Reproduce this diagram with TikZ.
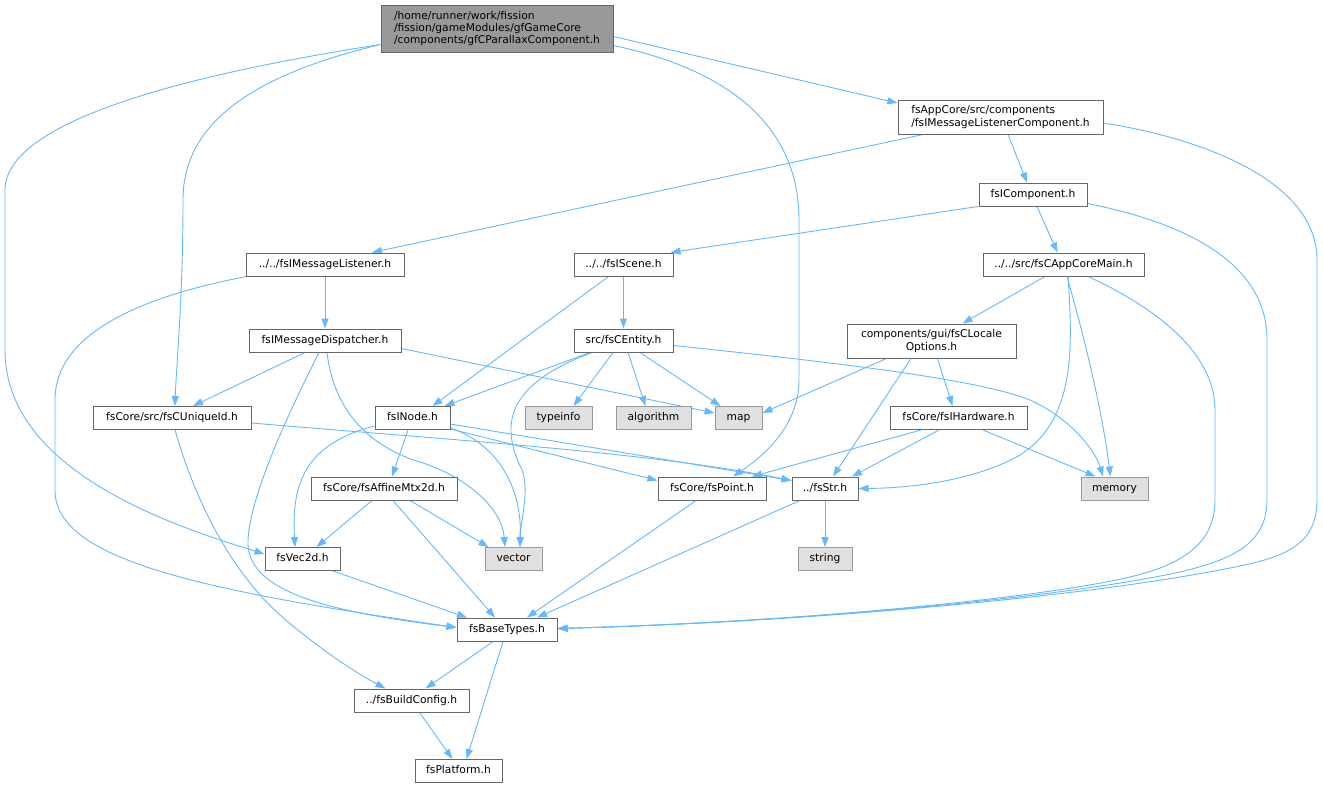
\documentclass[tikz,border=0pt]{standalone}
\usepackage{fontspec}
\setmainfont{DejaVu Sans}
\usetikzlibrary{arrows.meta,calc,backgrounds}
\definecolor{edgec}{HTML}{63B8FF}
\definecolor{boxc}{HTML}{666666}
\definecolor{sysfill}{HTML}{E0E0E0}
\definecolor{sysdraw}{HTML}{999999}
\definecolor{rootfill}{HTML}{999999}
\begin{document}
\begin{tikzpicture}[x=1pt,y=-1pt,
  base/.style={draw=boxc, line width=1pt, fill=white, inner sep=0pt,
    font=\fontsize{10.7}{12.2}\selectfont, text=black},
  box/.style={base, minimum height=23pt, text height=8pt, text depth=2.5pt},
  mbox/.style={base},
  rootbox/.style={mbox, fill=rootfill},
  sys/.style={box, draw=sysdraw, fill=sysfill},
  dep/.style={draw=edgec, line width=0.9pt, -{Triangle[length=10pt,width=7pt]}}
]
\useasboundingbox (0,0) rectangle (1323,788);

% nodes
\node[rootbox, minimum width=232pt, minimum height=47pt, align=left] (root) at (497,28.5)
  {/home/runner/work/fission\\/fission/gameModules/gfGameCore\\/components/gfCParallaxComponent.h};
\node[mbox, minimum width=205pt, minimum height=34pt, align=left] (mlc) at (1000.5,117)
  {fsAppCore/src/components\\/fsIMessageListenerComponent.h};
\node[box, minimum width=108pt] (comp) at (1033,194.5) {fsIComponent.h};
\node[box, minimum width=158pt] (ml) at (325,264.5) {../../fsIMessageListener.h};
\node[box, minimum width=99pt] (scene) at (623.5,264.5) {../../fsIScene.h};
\node[box, minimum width=161pt] (main) at (1063.5,264.5) {../../src/fsCAppCoreMain.h};
\node[box, minimum width=152pt] (md) at (325,340.5) {fsIMessageDispatcher.h};
\node[box, minimum width=99pt] (ent) at (623.5,340.5) {src/fsCEntity.h};
\node[mbox, minimum width=169pt, minimum height=34pt, align=center] (loc) at (931.5,341)
  {components/gui/fsCLocale\\Options.h};
\node[box, minimum width=158pt] (uid) at (172,418) {fsCore/src/fsCUniqueId.h};
\node[box, minimum width=75pt] (node) at (412.5,418) {fsINode.h};
\node[sys, minimum width=67pt] (typeinfo) at (558.5,418) {typeinfo};
\node[sys, minimum width=75pt] (algorithm) at (653.5,418) {algorithm};
\node[sys, minimum width=47pt] (map) at (738.5,418) {map};
\node[box, minimum width=137pt] (hw) at (958.5,418) {fsCore/fsIHardware.h};
\node[box, minimum width=146pt] (affine) at (384,488.5) {fsCore/fsAffineMtx2d.h};
\node[box, minimum width=108pt] (point) at (712,488.5) {fsCore/fsPoint.h};
\node[box, minimum width=66pt] (str) at (825,488.5) {../fsStr.h};
\node[sys, minimum width=67pt] (memory) at (1114.5,488.5) {memory};
\node[box, minimum width=75pt] (vec) at (302.5,559) {fsVec2d.h};
\node[sys, minimum width=57pt] (vector) at (513.5,559) {vector};
\node[sys, minimum width=54pt] (string) at (825,559) {string};
\node[box, minimum width=100pt] (bt) at (507,629.5) {fsBaseTypes.h};
\node[box, minimum width=115pt] (bc) at (411.5,700.5) {../fsBuildConfig.h};
\node[box, minimum width=87pt] (plat) at (458.5,771) {fsPlatform.h};

\begin{scope}[on background layer]
% root
\draw[dep] ($(root.east)+(0,8)$) -- ($(mlc.west)+(0,-14)$);
\draw[dep] ($(root.west)+(0,16)$) .. controls (240,78) and (183,130) .. (183,200)
  .. controls (183,300) and (176,370) .. ($(uid.north)+(3,0)$);
\draw[dep] ($(root.west)+(0,16)$) .. controls (250,65) and (5,110) .. (5,190) -- (5,350)
  .. controls (5,470) and (170,525) .. ($(vec.west)+(0,-5)$);
\draw[dep] ($(root.east)+(0,17)$) .. controls (720,68) and (799,120) .. (799,220) -- (799,380)
  .. controls (799,425) and (765,455) .. ($(point.north)+(21,0)$);
% mlc
\draw[dep] ($(mlc.south)+(-77.5,0)$) -- ($(ml.north)+(47,0)$);
\draw[dep] ($(mlc.south)+(7.5,0)$) -- ($(comp.north)+(-6,0)$);
\draw[dep] ($(mlc.east)+(0,6)$) .. controls (1200,138) and (1317,180) .. (1317,260) -- (1317,500)
  .. controls (1317,548) and (1280,558) .. (1230,568)
  .. controls (1080,598) and (800,622) .. ($(bt.east)+(0,-1)$);
% comp
\draw[dep] ($(comp.south)+(-55,0)$) -- ($(scene.north east)+(-3,0)$);
\draw[dep] ($(comp.south)+(4,0)$) -- ($(main.north)+(-6,0)$);
\draw[dep] ($(comp.east)+(0,9)$) .. controls (1180,222) and (1267,260) .. (1267,340) -- (1267,500)
  .. controls (1267,545) and (1230,560) .. (1180,572)
  .. controls (1060,598) and (800,622) .. ($(bt.east)+(0,-1)$);
% ml
\draw[dep] (ml.south) -- (md.north);
\draw[dep] ($(ml.south west)+(1,0)$) .. controls (150,295) and (55,330) .. (55,400) -- (55,490)
  .. controls (55,560) and (200,590) .. ($(bt.west)+(0,-2)$);
% scene
\draw[dep] (scene.south) -- (ent.north);
\draw[dep] ($(scene.south)+(-15,0)$) -- ($(node.north)+(20,0)$);
% main
\draw[dep] ($(main.south)+(-18.5,0)$) -- ($(loc.north)+(31,0)$);
\draw[dep] ($(main.south)+(4.5,0)$) .. controls (1073,350) and (1075,420) .. (1020,455)
  .. controls (980,478) and (920,488) .. (str.east);
\draw[dep] ($(main.south)+(3.5,0)$) .. controls (1085,340) and (1102,410) .. ($(memory.north)+(-4,0)$);
\draw[dep] ($(main.south)+(24.5,0)$) .. controls (1150,305) and (1215,350) .. (1215,410) -- (1215,500)
  .. controls (1215,545) and (1180,565) .. (1130,577)
  .. controls (1040,598) and (800,622) .. ($(bt.east)+(0,-1)$);
% md
\draw[dep] ($(md.south)+(-20,0)$) -- ($(uid.north)+(21,0)$);
\draw[dep] ($(md.south)+(-6,0)$) .. controls (290,410) and (250,495) .. (248,540)
  .. controls (245,592) and (330,612) .. ($(bt.west)+(0,-2)$);
\draw[dep] ($(md.south)+(2,0)$) .. controls (335,420) and (380,450) .. (420,462)
  .. controls (470,478) and (502,510) .. ($(vector.north)+(-8.5,0)$);
\draw[dep] ($(md.east)+(0,8)$) -- ($(map.west)+(0,-5)$);
% ent
\draw[dep] ($(ent.south)+(-33.5,0)$) -- ($(node.north)+(32,0)$);
\draw[dep] ($(ent.south)+(-10.5,0)$) -- ($(typeinfo.north)+(15,0)$);
\draw[dep] ($(ent.south)+(4.5,0)$) -- ($(algorithm.north)+(-8,0)$);
\draw[dep] ($(ent.south)+(16.5,0)$) -- ($(map.north)+(-18,0)$);
\draw[dep] ($(ent.south)+(-31.5,0)$) .. controls (505,385) and (500,425) .. (522,470)
  .. controls (530,490) and (520,525) .. ($(vector.north)+(6.5,0)$);
\draw[dep] ($(ent.east)+(0,5)$) .. controls (850,364) and (980,380) .. (1030,400)
  .. controls (1070,418) and (1095,450) .. ($(memory.north)+(-11.5,0)$);
% loc
\draw[dep] ($(loc.south)+(-45,0)$) -- ($(map.east)+(0,-5)$);
\draw[dep] ($(loc.south)+(-20.5,0)$) -- ($(str.north)+(8,0)$);
\draw[dep] ($(loc.south)+(6,0)$) -- ($(hw.north)+(-6,0)$);
% uid
\draw[dep] ($(uid.south)+(3,0)$) .. controls (195,500) and (230,570) .. (280,615)
  .. controls (320,650) and (360,675) .. ($(bc.north)+(-26,0)$);
\draw[dep] ($(uid.east)+(0,5)$) .. controls (450,440) and (650,452) .. ($(str.west)+(0,-8)$);
% node
\draw[dep] ($(node.south)+(-4.5,0)$) -- ($(affine.north)+(8,0)$);
\draw[dep] ($(node.west)+(0,8)$) .. controls (300,445) and (292,490) .. ($(vec.north)+(-7.5,0)$);
\draw[dep] ($(node.south east)+(0,-2)$) .. controls (500,445) and (522,490) .. ($(vector.north)+(6.5,0)$);
\draw[dep] ($(node.south east)+(0,-1)$) -- ($(point.west)+(0,-8)$);
\draw[dep] ($(node.east)+(0,6)$) -- ($(str.west)+(0,-8)$);
% affine
\draw[dep] ($(affine.south)+(-12,0)$) -- ($(vec.north)+(14,0)$);
\draw[dep] ($(affine.south)+(26,0)$) -- ($(vector.north)+(-25,0)$);
\draw[dep] ($(affine.south)+(9,0)$) -- ($(bt.north)+(-12,0)$);
% others
\draw[dep] ($(point.south)+(-16,0)$) -- ($(bt.north)+(20,0)$);
\draw[dep] ($(str.south)+(-25,0)$) -- ($(bt.north)+(30,0)$);
\draw[dep] (str.south) -- (string.north);
\draw[dep] ($(vec.south)+(30.5,0)$) -- ($(bt.north)+(-40,0)$);
\draw[dep] ($(hw.south)+(-37.5,0)$) -- ($(point.north)+(40,0)$);
\draw[dep] ($(hw.south)+(-19.5,0)$) -- ($(str.north)+(27,0)$);
\draw[dep] ($(hw.south)+(24.5,0)$) -- ($(memory.north)+(-19,0)$);
\draw[dep] ($(bt.south)+(-14,0)$) -- ($(bc.north)+(14,0)$);
\draw[dep] ($(bt.south)+(-4,0)$) -- ($(plat.north)+(8,0)$);
\draw[dep] ($(bc.south)+(8,0)$) -- ($(plat.north)+(-6,0)$);
\end{scope}
\end{tikzpicture}
\end{document}
